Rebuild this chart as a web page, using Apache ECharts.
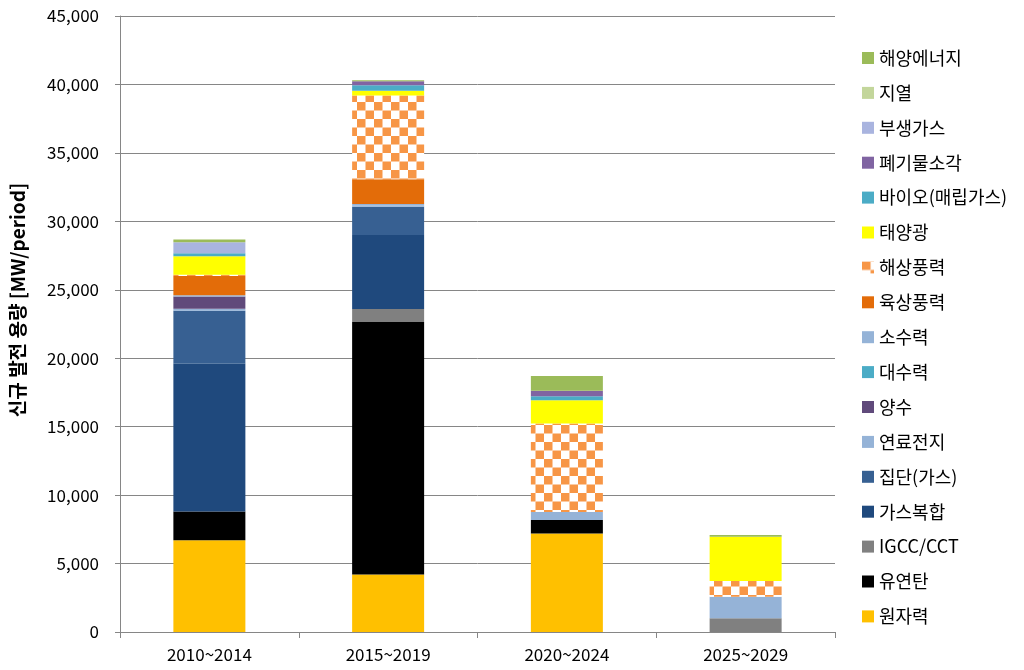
<!DOCTYPE html>
<html><head><meta charset="utf-8">
<script src="https://cdn.jsdelivr.net/npm/echarts@6/dist/echarts.min.js"></script>
<style>html,body{margin:0;padding:0;background:#fff}#c{width:1024px;height:670px}</style>
</head><body><div id="c"></div>
<script>
const categories = ['2010~2014', '2015~2019', '2020~2024', '2025~2029'];
const yTicks = [0, 5000, 10000, 15000, 20000, 25000, 30000, 35000, 40000, 45000];
const nuclear   = [6700, 4200, 7200, 0];      // 원자력
const coal      = [2100, 18450, 975, 0];      // 유연탄
const igcc      = [0, 950, 0, 1000];          // IGCC/CCT
const gasCC     = [10800, 5400, 0, 0];        // 가스복합
const district  = [3870, 2070, 0, 0];         // 집단(가스)
const fuelCell  = [150, 100, 600, 1580];      // 연료전지
const pumped    = [880, 0, 0, 0];             // 양수
const largeHydro= [0, 0, 0, 0];               // 대수력
const smallHydro= [100, 100, 0, 0];           // 소수력
const onWind    = [1400, 1800, 0, 0];         // 육상풍력
const offWind   = [100, 6130, 6450, 1140];    // 해상풍력
const solar     = [1350, 340, 1700, 3240];    // 태양광
const bio       = [220, 400, 300, 0];         // 바이오(매립가스)
const waste     = [0, 290, 390, 0];           // 폐기물소각
const byGas     = [800, 0, 0, 0];             // 부생가스
const geo       = [0, 0, 0, 0];               // 지열
const ocean     = [200, 80, 1090, 120];       // 해양에너지

const seriesDefs = [
  ['원자력', nuclear, '#FFC000'],
  ['유연탄', coal, '#000000'],
  ['IGCC/CCT', igcc, '#808080'],
  ['가스복합', gasCC, '#1F497D'],
  ['집단(가스)', district, '#376092'],
  ['연료전지', fuelCell, '#95B3D7'],
  ['양수', pumped, '#604A7B'],
  ['대수력', largeHydro, '#4BACC6'],
  ['소수력', smallHydro, '#95B3D7'],
  ['육상풍력', onWind, '#E36C09'],
  ['해상풍력', offWind, 'PATTERN'],
  ['태양광', solar, '#FFFF00'],
  ['바이오(매립가스)', bio, '#4BACC6'],
  ['폐기물소각', waste, '#8064A2'],
  ['부생가스', byGas, '#A9B4DF'],
  ['지열', geo, '#C3D69B'],
  ['해양에너지', ocean, '#9BBB59']
];

const cv = document.createElement('canvas');
cv.width = 17; cv.height = 17;
const cx = cv.getContext('2d');
cx.fillStyle = '#ffffff'; cx.fillRect(0, 0, 17, 17);
cx.fillStyle = '#F79646';
cx.fillRect(0, 0, 8.5, 8.5); cx.fillRect(8.5, 8.5, 8.5, 8.5);
const checker = { image: cv, repeat: 'repeat' };

const FONT = '"Noto Sans CJK KR", "Noto Sans", sans-serif';
const chart = echarts.init(document.getElementById('c'));
chart.setOption({
  animation: false,
  backgroundColor: '#fff',
  grid: { left: 120, right: 189, top: 16, bottom: 38 },
  graphic: [{
    type: 'text', x: 18, y: 300, rotation: Math.PI / 2,
    style: { text: '신규 발전 용량 [MW/period]', font: 'bold 19px ' + FONT, fill: '#000',
      textAlign: 'center', textVerticalAlign: 'middle' }
  }],
  legend: {
    orient: 'vertical', left: 857, top: 42, itemWidth: 12, itemHeight: 12, itemGap: 12.9,
    icon: 'rect',
    data: seriesDefs.map(d => d[0]).reverse(),
    textStyle: { fontSize: 18, lineHeight: 22, color: '#000', fontFamily: FONT }
  },
  xAxis: {
    type: 'category', data: categories,
    axisLine: { lineStyle: { color: '#868686', width: 1 } },
    axisTick: { show: true, length: 6, lineStyle: { color: '#868686' } },
    axisLabel: { fontSize: 17, color: '#000', margin: 14, fontFamily: FONT }
  },
  yAxis: {
    type: 'value', min: yTicks[0], max: yTicks[yTicks.length - 1], interval: yTicks[1] - yTicks[0],
    axisLine: { show: true, lineStyle: { color: '#868686', width: 1 } },
    axisTick: { show: true, length: 5, lineStyle: { color: '#868686' } },
    splitLine: { lineStyle: { color: '#868686', width: 1 } },
    axisLabel: { fontSize: 17, color: '#000', margin: 21, fontFamily: FONT,
      formatter: v => v.toLocaleString('en-US') }
  },
  series: seriesDefs.map(d => ({
    name: d[0], type: 'bar', stack: 'total', data: d[1], barWidth: 72,
    itemStyle: { color: d[2] === 'PATTERN' ? checker : d[2] }
  }))
});
</script></body></html>
